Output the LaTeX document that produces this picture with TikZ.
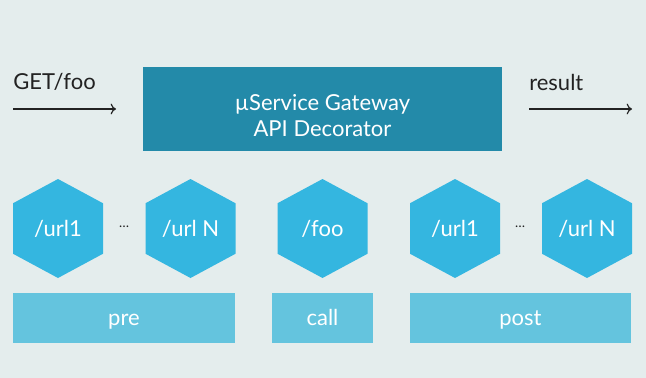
\documentclass[tikz,border=0pt]{standalone}
\usepackage{fontspec}
\setmainfont{Lato}
\usetikzlibrary{arrows.meta,calc}
\definecolor{bgcol}{HTML}{E4EDED}
\definecolor{gatecol}{HTML}{238AA9}
\definecolor{hexcol}{HTML}{34B6E0}
\definecolor{barcol}{HTML}{64C4DE}
\definecolor{inkcol}{HTML}{222222}
\begin{document}
\begin{tikzpicture}[x=0.75pt,y=-0.75pt]
\tikzset{
  gatebox/.style={rectangle,fill=gatecol,draw=none,minimum width=269.25pt,minimum height=63pt,inner sep=0pt,text=white,font=\fontsize{16.5}{19}\selectfont},
  hexnode/.style={rectangle,draw=none,minimum width=67.5pt,minimum height=74.25pt,inner sep=0pt,text height=11.5pt,text depth=0pt,text=white,font=\fontsize{16.5}{18}\selectfont,
    path picture={\fill[hexcol] (path picture bounding box.north)
      -- ($(path picture bounding box.north east)!.245!(path picture bounding box.south east)$)
      -- ($(path picture bounding box.north east)!.755!(path picture bounding box.south east)$)
      -- (path picture bounding box.south)
      -- ($(path picture bounding box.south west)!.245!(path picture bounding box.north west)$)
      -- ($(path picture bounding box.south west)!.755!(path picture bounding box.north west)$)
      -- cycle;}},
  barbox/.style={rectangle,fill=barcol,draw=none,minimum height=37.5pt,inner sep=0pt,text height=11.5pt,text depth=0pt,text=white,font=\fontsize{16.5}{18}\selectfont},
  plainlabel/.style={text=inkcol,inner sep=0pt,font=\fontsize{16.5}{18}\selectfont},
  flow/.style={draw=inkcol,line width=0.9pt,-{To[length=4pt,width=8pt]}}
}
\fill[bgcol] (0,0) rectangle (646,378);
\useasboundingbox (0,0) rectangle (646,378);
% gateway and request / response
\node[gatebox] (gw) at (322.5,109) {\raisebox{-11.5pt}[0pt][0pt]{\begin{tabular}{@{}c@{}}µService Gateway\\API Decorator\end{tabular}}};
\node[plainlabel,anchor=west] (get) at (13,82) {GET/foo};
\node[plainlabel,anchor=west] (res) at (529,82) {result};
\coordinate (in_a) at (13,109);
\coordinate (in_b) at (116,109);
\coordinate (out_a) at (529,109);
\coordinate (out_b) at (632,109);
\draw[flow] (in_a) -- (in_b);
\draw[flow] (out_a) -- (out_b);
% handlers
\node[hexnode] (pre1) at (58,228.5) {/url1};
\node[hexnode] (preN) at (190.5,228.5) {/url N};
\node[hexnode] (call) at (322.5,228.5) {/foo};
\node[hexnode] (post1) at (455,228.5) {/url1};
\node[hexnode] (postN) at (587,228.5) {/url N};
\node[plainlabel] (dots_pre) at (124,227) {\normalsize\dots};
\node[plainlabel] (dots_post) at (520,227) {\normalsize\dots};
% phases
\node[barbox,minimum width=166.5pt] (pre) at (124,318) {pre};
\node[barbox,minimum width=75.75pt] (callbar) at (322.5,318) {call};
\node[barbox,minimum width=165.75pt] (post) at (520.5,318) {post};
\end{tikzpicture}
\end{document}
